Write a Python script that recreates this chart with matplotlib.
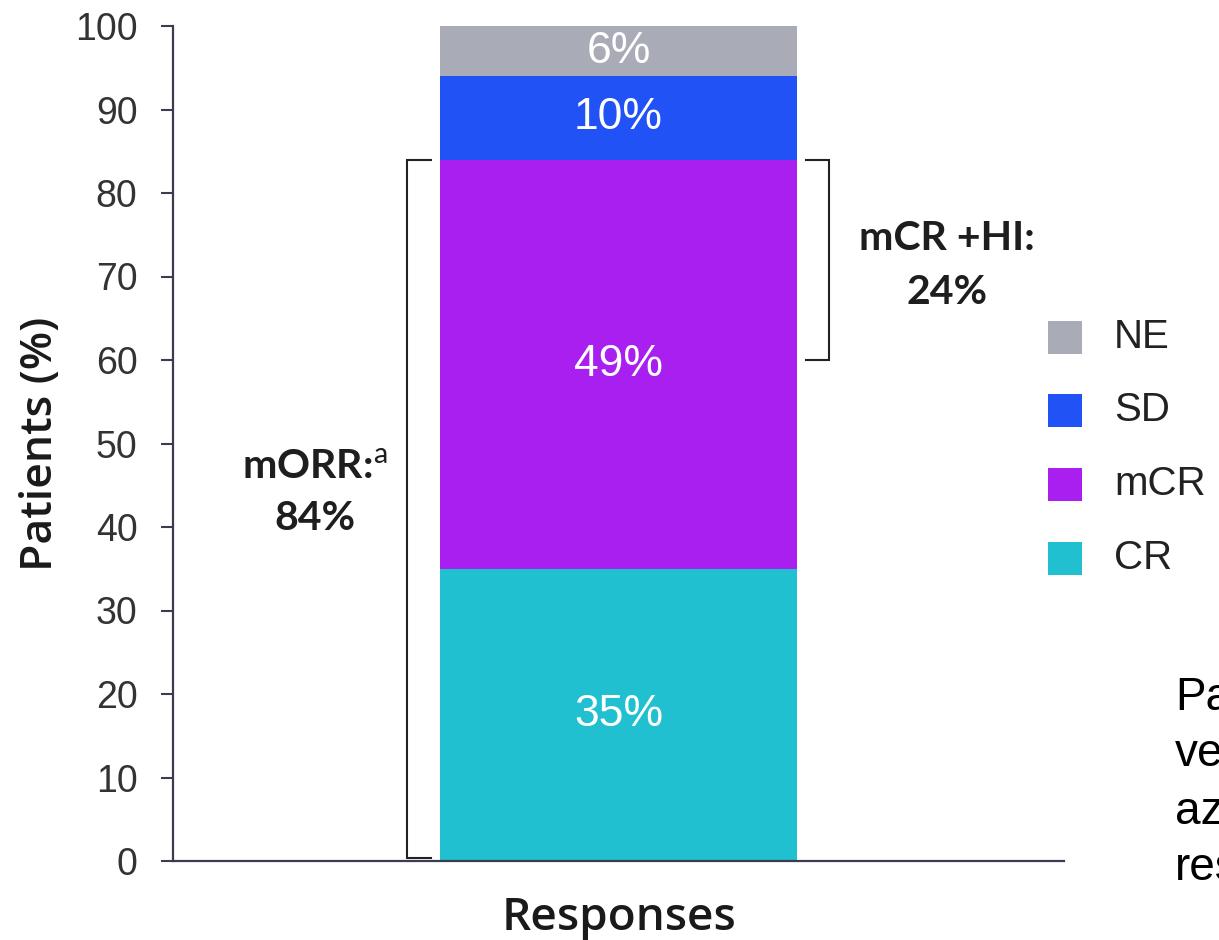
import matplotlib
matplotlib.use("Agg")
import matplotlib.pyplot as plt
from matplotlib.patches import Rectangle

# Response categories, stacked bottom to top
categories = ["CR", "mCR", "SD", "NE"]
values = [35, 49, 10, 6]
colors = ["#21c0d0", "#a81ff0", "#2152f5", "#a9abb6"]
bar_name = "Responses"

yticks = [0, 10, 20, 30, 40, 50, 60, 70, 80, 90, 100]

morr_value = values[0] + values[1]      # mORR: CR + mCR
mcr_hi_value = 24                       # mCR + HI

# Legend order (top to bottom)
legend_order = ["NE", "SD", "mCR", "CR"]

side_text = ["Pa", "ve", "az", "res"]

plt.rcParams["mathtext.fontset"] = "custom"
plt.rcParams["mathtext.rm"] = "Lato"

DPI = 100
fig = plt.figure(figsize=(12.19, 9.40), dpi=DPI)
W, H = 1219, 940
ax = fig.add_axes([173 / W, 79 / H, (1064 - 173) / W, (861 - 26) / H])

# Stacked single bar
bottom = 0
for cat, val, col in zip(categories, values, colors):
    ax.bar(0, val, width=1.0, bottom=bottom, color=col, linewidth=0)
    ax.text(0, bottom + val / 2, f"{val}%", ha="center", va="center",
            color="white", fontsize=32, family="Liberation Sans")
    bottom += val

ax.set_xlim(-1.25, 1.25)
ax.set_ylim(0, 100)
ax.set_yticks(yticks)
ax.set_xticks([])

spine_col = "#3b3b52"
for s in ["top", "right"]:
    ax.spines[s].set_visible(False)
for s in ["left", "bottom"]:
    ax.spines[s].set_color(spine_col)
    ax.spines[s].set_linewidth(1.6)
ax.tick_params(axis="y", direction="out", length=8.6, width=1.5,
               color=spine_col, pad=17, labelsize=27, labelcolor="#333333")
for lab in ax.get_yticklabels():
    lab.set_family("Liberation Sans")

ax.set_ylabel("Patients (%)", family="Open Sans", fontweight="semibold",
              fontsize=32, color="#1a1a1a")
ax.yaxis.set_label_coords(-0.125, 0.5)
ax.set_xlabel(bar_name, family="Open Sans", fontweight="semibold",
              fontsize=33, color="#1a1a1a", va="top")
ax.xaxis.set_label_coords(0.5, -0.042)

# Brackets
br_col = "#222222"
lx, lf = -0.593, -0.525
ax.plot([lf, lx, lx, lf], [0.4, 0.4, morr_value, morr_value],
        color=br_col, lw=1.5, solid_joinstyle="miter", clip_on=False)
rx, rf = 0.591, 0.525
ax.plot([rf, rx, rx, rf], [morr_value - mcr_hi_value, morr_value - mcr_hi_value,
                           morr_value, morr_value],
        color=br_col, lw=1.5, solid_joinstyle="miter", clip_on=False)

# Bracket annotations
ann_kw = dict(ha="center", va="center", family="Lato", fontweight="bold",
              fontsize=29.5, color="#1e1e1e")
ax.text(-0.852, 47.2, r"mORR:$^{\mathrm{a}}$", **ann_kw)
ax.text(-0.852, 41.0, f"{morr_value}%", **ann_kw)
ax.text(0.922, 74.6, "mCR +HI:", **ann_kw)
ax.text(0.922, 68.1, f"{mcr_hi_value}%", **ann_kw)

# Legend drawn as swatches and labels in figure pixels
leg_y = [337, 410, 484, 558]
color_of = dict(zip(categories, colors))
for name, yc in zip(legend_order, leg_y):
    fig.add_artist(Rectangle((1048 / W, (H - yc - 16.5) / H), 34 / W, 33 / H,
                             transform=fig.transFigure,
                             facecolor=color_of[name], edgecolor="none"))
    fig.text(1114 / W, (H - yc) / H, name, ha="left", va="center",
             family="Liberation Sans", fontsize=29, color="#222222")

# Partial paragraph at the right edge
base_y = [710, 766, 824, 880]
for t, by in zip(side_text, base_y):
    fig.text(1175 / W, (H - by) / H, t, ha="left", va="baseline",
             family="Liberation Sans", fontsize=33, color="black")

fig.savefig("out.png", dpi=DPI, facecolor="white")
